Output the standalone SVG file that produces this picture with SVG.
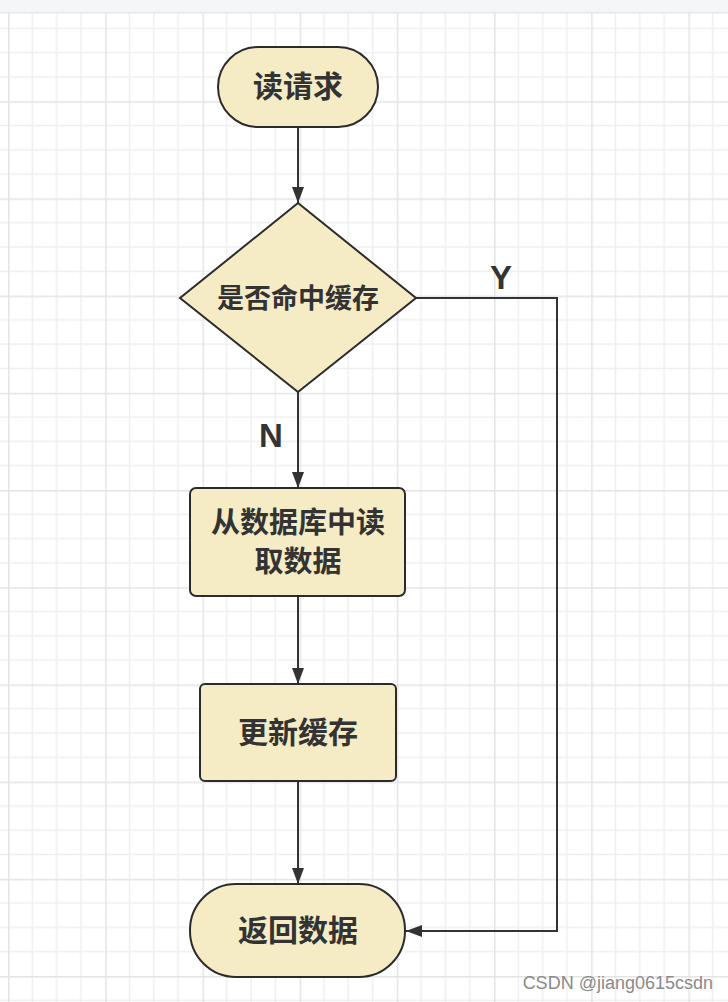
<svg xmlns="http://www.w3.org/2000/svg" width="728" height="1002" viewBox="0 0 728 1002">
<defs>
<pattern id="grid" patternUnits="userSpaceOnUse" x="8" y="4" width="97.2" height="97.2">
<path d="M24.3 0V97.2M48.6 0V97.2M72.9 0V97.2M0 24.3H97.2M0 48.6H97.2M0 72.9H97.2" stroke="#efefef" stroke-width="1.5" fill="none"/>
<path d="M0.75 0V97.2M0 0.75H97.2" stroke="#e4e4e4" stroke-width="1.5" fill="none"/>
</pattern>
<marker id="arr" markerUnits="userSpaceOnUse" markerWidth="16" markerHeight="12" refX="16" refY="6" orient="auto">
<path d="M0,0 L16,6 L0,12 z" fill="#333"/>
</marker>
<style>
.node{fill:#f5ecc6;stroke:#2b2b2b;stroke-width:2}
.t{font-family:"Noto Sans CJK SC","Noto Sans",sans-serif;font-weight:bold;fill:#333;text-anchor:middle;dominant-baseline:central}
.lbl{font-family:"Liberation Sans",Arial,sans-serif;font-weight:bold;fill:#333;text-anchor:middle;font-size:33px}
.c{fill:none;stroke:#333;stroke-width:2}
</style>
</defs>
<rect width="728" height="1002" fill="#ffffff"/>
<rect y="12" width="728" height="990" fill="url(#grid)"/>
<rect width="728" height="12" fill="#f5f6f8"/>
<rect y="12" width="728" height="1.5" fill="#e6e7e9"/>

<g id="connectors">
<path class="c" d="M298 127V203" marker-end="url(#arr)"/>
<path class="c" d="M298 392V488" marker-end="url(#arr)"/>
<path class="c" d="M298 596V684" marker-end="url(#arr)"/>
<path class="c" d="M298 781V884" marker-end="url(#arr)"/>
<path class="c" d="M416 298H557V931H406" marker-end="url(#arr)"/>
<text class="lbl" x="501" y="289">Y</text>
<text class="lbl" x="271" y="447">N</text>
</g>

<g id="start">
<rect class="node" x="218" y="47" width="160" height="80" rx="40" ry="40"/>
<text class="t" x="298" y="84" font-size="30">读请求</text>
</g>
<g id="decision">
<polygon class="node" points="298,203 416,298 298,392 180,298"/>
<text class="t" x="298" y="296" font-size="27">是否命中缓存</text>
</g>
<g id="readdb">
<rect class="node" x="190" y="488" width="215" height="108" rx="6" ry="6"/>
<text class="t" x="298" y="520" font-size="29">从数据库中读</text>
<text class="t" x="298" y="559" font-size="29">取数据</text>
</g>
<g id="update">
<rect class="node" x="200" y="684" width="196" height="97" rx="5" ry="5"/>
<text class="t" x="298" y="730" font-size="30">更新缓存</text>
</g>
<g id="end">
<rect class="node" x="190" y="884" width="215" height="93" rx="46" ry="46"/>
<text class="t" x="298" y="928" font-size="30">返回数据</text>
</g>
<text x="713" y="989" text-anchor="end" font-family="Liberation Sans,Arial,sans-serif" font-size="18" fill="#8a8a8a">CSDN @jiang0615csdn</text>
</svg>
